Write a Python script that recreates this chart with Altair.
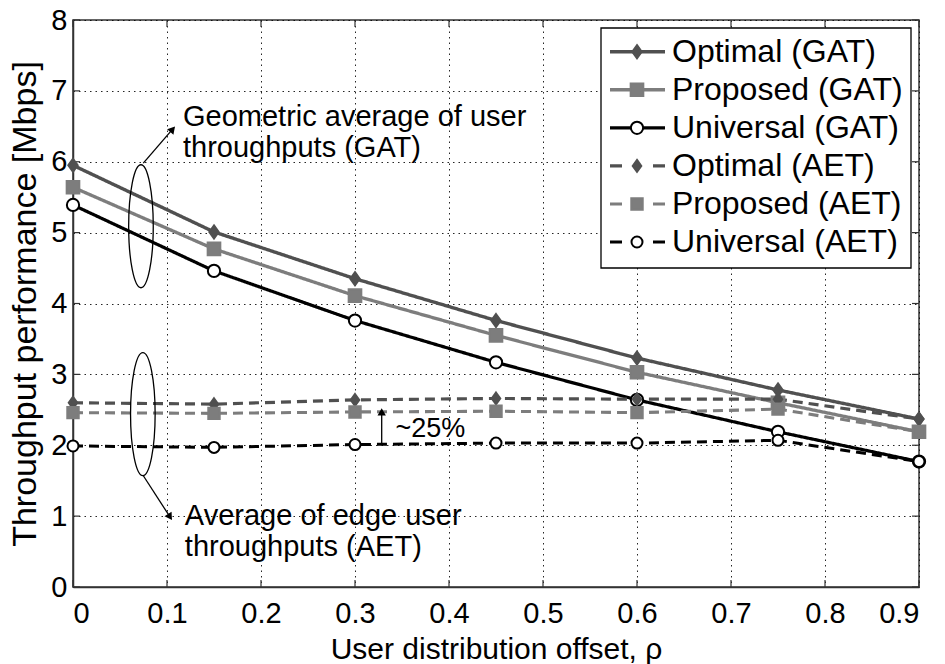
import altair as alt
import pandas as pd

# ---------------- data ----------------
rho = [0, 0.15, 0.3, 0.45, 0.6, 0.75, 0.9]
series_names = ["Optimal (GAT)", "Proposed (GAT)", "Universal (GAT)",
                "Optimal (AET)", "Proposed (AET)", "Universal (AET)"]
opt_gat = [5.95, 5.01, 4.35, 3.76, 3.23, 2.78, 2.37]
prop_gat = [5.64, 4.77, 4.11, 3.55, 3.03, 2.60, 2.19]
univ_gat = [5.39, 4.46, 3.76, 3.17, 2.64, 2.19, 1.77]
opt_aet = [2.60, 2.58, 2.64, 2.66, 2.65, 2.65, 2.37]
prop_aet = [2.46, 2.45, 2.47, 2.48, 2.46, 2.51, 2.19]
univ_aet = [1.99, 1.97, 2.01, 2.03, 2.03, 2.07, 1.77]
x_ticks = [0, 0.1, 0.2, 0.3, 0.4, 0.5, 0.6, 0.7, 0.8, 0.9]
y_ticks = [0, 1, 2, 3, 4, 5, 6, 7, 8]

# annotations (data coordinates)
note_text = ["Geometric average of user", "throughputs (GAT)",
             "Average of edge user", "throughputs (AET)"]
note_x = [0.117, 0.117, 0.119, 0.119]
note_y = [6.51, 6.07, 0.88, 0.44]
pct_text = ["~25%"]
pct_x = [0.343]
pct_y = [2.11]
ellipse_x = [0.0723, 0.0743]
ellipse_y = [5.09, 2.44]
arrow_x = [0.0748, 0.0745, 0.3284]
arrow_y = [5.98, 1.577, 2.03]
arrow_x2 = [0.106, 0.1032, 0.3284]
arrow_y2 = [6.46, 0.988, 2.47]
arrow_angle = [41, 147, 0]

# ---------------- styles ----------------
FONT = "Liberation Sans"
W, H = 846, 567
PAD = {"left": 73, "top": 20, "right": 945 - 73 - 846, "bottom": 664 - 20 - 567}
colors = ["#505050", "#7d7d7d", "#000000", "#505050", "#7d7d7d", "#000000"]
fills = ["#505050", "#7d7d7d", "#ffffff", "#505050", "#7d7d7d", "#ffffff"]
dashes = [[1, 0], [1, 0], [1, 0], [10, 6], [10, 6], [10, 6]]
widths = [3.4, 3.0, 2.6, 3.2, 3.2, 3.2]
DIAMOND = "M0,-1 L0.72,0 L0,1 L-0.72,0 Z"
shapes = [DIAMOND, "square", "circle", DIAMOND, "square", "circle"]
sizes = [170, 121, 140, 170, 121, 140]
ELLIPSE = ("M0,-1 C0.11,-1 0.2,-0.552 0.2,0 C0.2,0.552 0.11,1 0,1 "
           "C-0.11,1 -0.2,0.552 -0.2,0 C-0.2,-0.552 -0.11,-1 0,-1 Z")

# ---------------- tables ----------------
vals = [opt_gat, prop_gat, univ_gat, opt_aet, prop_aet, univ_aet]
rows = []
for name, v in zip(series_names, vals):
    for r, y in zip(rho, v):
        rows.append({"series": name, "rho": r, "value": y})
df = pd.DataFrame(rows)

xs = alt.Scale(domain=[0, 0.9], nice=False, zero=False)
ys = alt.Scale(domain=[0, 8], nice=False, zero=False)
xaxis = alt.Axis(values=x_ticks, format="~g", title="User distribution offset, \u03c1")
yaxis = alt.Axis(values=y_ticks, format="d", title="Throughput performance [Mbps]")


def X(field="rho"):
    return alt.X(f"{field}:Q", scale=xs, axis=xaxis)


def Y(field="value"):
    return alt.Y(f"{field}:Q", scale=ys, axis=yaxis)


cscale = alt.Scale(domain=series_names, range=colors)
color = alt.Color("series:N", scale=cscale, legend=None)
fill = alt.Fill("series:N", scale=alt.Scale(domain=series_names, range=fills), legend=None)
shape = alt.Shape("series:N", scale=alt.Scale(domain=series_names, range=shapes), legend=None)
size = alt.Size("series:N", scale=alt.Scale(domain=series_names, range=sizes), legend=None)
swidth = alt.StrokeWidth("series:N", scale=alt.Scale(domain=series_names, range=widths), legend=None)

lines = alt.Chart(df).mark_line().encode(
    x=X(), y=Y(), color=color, strokeWidth=swidth,
    strokeDash=alt.StrokeDash("series:N", scale=alt.Scale(domain=series_names, range=dashes), legend=None),
    detail="series:N",
)
points = alt.Chart(df).mark_point(opacity=1, strokeWidth=2).encode(
    x=X(), y=Y(), stroke=alt.Stroke("series:N", scale=cscale, legend=None),
    fill=fill, shape=shape, size=size,
)

# inward ticks on all four sides
xt = pd.DataFrame({"rho": x_ticks})
yt = pd.DataFrame({"value": y_ticks})
tick_style = dict(color="#333333", strokeWidth=1.2)
ticks_b = alt.Chart(xt).mark_rule(**tick_style).encode(x=X(), y=alt.value(H), y2=alt.value(H - 7))
ticks_t = alt.Chart(xt).mark_rule(**tick_style).encode(x=X(), y=alt.value(0), y2=alt.value(7))
ticks_l = alt.Chart(yt).mark_rule(**tick_style).encode(y=Y(), x=alt.value(0), x2=alt.value(7))
ticks_r = alt.Chart(yt).mark_rule(**tick_style).encode(y=Y(), x=alt.value(W), x2=alt.value(W - 7))

# annotations
ell = alt.Chart(pd.DataFrame({"rho": ellipse_x, "value": ellipse_y})).mark_point(
    shape=ELLIPSE, size=15129, filled=False, color="black", strokeWidth=1.3, opacity=1
).encode(x=X(), y=Y())
arr_df = pd.DataFrame({"rho": arrow_x, "value": arrow_y, "rho2": arrow_x2,
                       "value2": arrow_y2, "angle": arrow_angle})
arr = alt.Chart(arr_df).mark_rule(color="black", strokeWidth=1.3).encode(
    x=X(), y=Y(), x2="rho2:Q", y2="value2:Q")
heads = alt.Chart(arr_df).mark_point(shape="triangle-up", filled=True, color="black",
                                     size=70, opacity=1).encode(
    x=X("rho2"), y=Y("value2"), angle=alt.Angle("angle:Q", scale=None))
notes = alt.Chart(pd.DataFrame({"rho": note_x, "value": note_y, "t": note_text})).mark_text(
    align="left", baseline="alphabetic", fontSize=29, font=FONT, color="black"
).encode(x=X(), y=Y(), text="t:N")
pct = alt.Chart(pd.DataFrame({"rho": pct_x, "value": pct_y, "t": pct_text})).mark_text(
    align="left", baseline="alphabetic", fontSize=27, font=FONT, color="black"
).encode(x=X(), y=Y(), text="t:N")

main = alt.layer(ticks_b, ticks_t, ticks_l, ticks_r, lines, points, ell, arr, heads, notes, pct)

# manual legend (line + marker samples)
leg_df = pd.DataFrame({"series": series_names, "idx": list(range(len(series_names))),
                       "grp": ["GAT"] * 3 + ["AET"] * 3})
ly = alt.Y("idx:Q", scale=alt.Scale(domain=[0, 5], range=[31.7, 222]), axis=None)
box = alt.Chart(pd.DataFrame({"a": [0]})).mark_rect(fill="white", stroke="black", strokeWidth=1.3).encode(
    x=alt.value(528), x2=alt.value(838), y=alt.value(8), y2=alt.value(248))
leg_solid = alt.Chart(leg_df).transform_filter("datum.grp == 'GAT'").mark_rule().encode(
    x=alt.value(537), x2=alt.value(592), y=ly, color=color, strokeWidth=swidth)
leg_dash = alt.Chart(leg_df).transform_filter("datum.grp == 'AET'").mark_rule(strokeDash=[12, 31]).encode(
    x=alt.value(537), x2=alt.value(592), y=ly, color=color, strokeWidth=swidth)
leg_pts = alt.Chart(leg_df).mark_point(opacity=1, strokeWidth=2).encode(
    x=alt.value(564), y=ly, stroke=alt.Stroke("series:N", scale=cscale, legend=None),
    fill=fill, shape=shape, size=size)
leg_txt = alt.Chart(leg_df).mark_text(align="left", baseline="middle", fontSize=32, font=FONT,
                                      color="black").encode(
    x=alt.value(599), y=ly, text="series:N")
legend = alt.layer(box, leg_solid, leg_dash, leg_pts, leg_txt)

chart = alt.layer(main, legend).resolve_scale(y="independent").properties(
    width=W, height=H,
    padding=PAD,
    autosize=alt.AutoSizeParams(type="none"),
    background="white",
).configure_view(stroke="#333333", strokeWidth=1.5).configure_axis(
    domainColor="#333333", domainWidth=1.5, ticks=False,
    grid=True, gridColor="#000000", gridDash=[1.5, 4], gridWidth=1, gridOpacity=0.85,
    labelFont=FONT, labelFontSize=29, labelColor="black",
    titleFont=FONT, titleFontWeight="normal", titleColor="black",
).configure_axisX(labelPadding=12, titleFontSize=30, titlePadding=6).configure_axisY(
    labelPadding=6, titleFontSize=34, titlePadding=8)

chart.save("out.html", embed_options={"renderer": "svg", "actions": False})
